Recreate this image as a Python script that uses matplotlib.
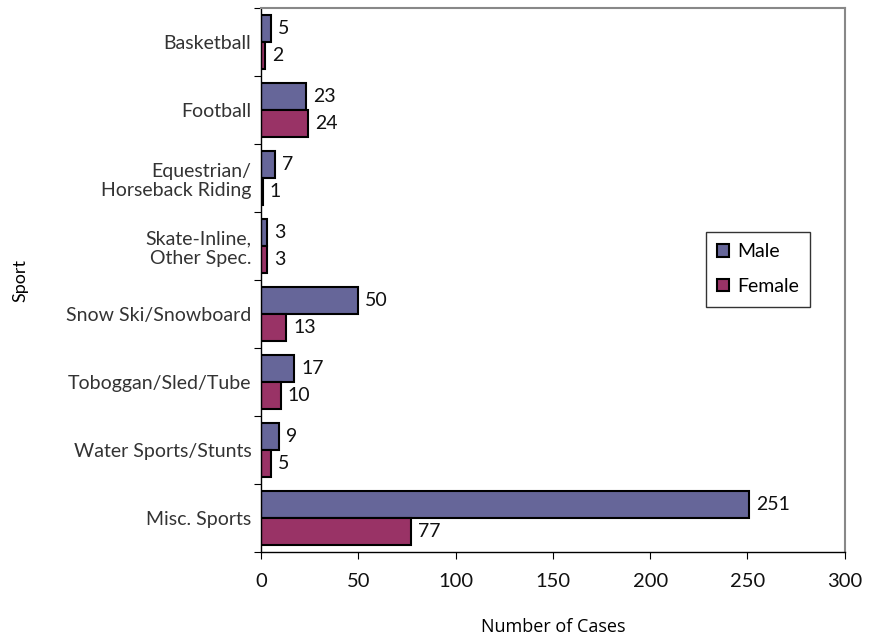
import matplotlib
matplotlib.use("Agg")
import matplotlib.pyplot as plt
import numpy as np

plt.rcParams['font.family'] = ['Lato', 'DejaVu Sans']

sports = ["Basketball", "Football", "Equestrian/\nHorseback Riding",
          "Skate-Inline,\nOther Spec.", "Snow Ski/Snowboard",
          "Toboggan/Sled/Tube", "Water Sports/Stunts", "Misc. Sports"]
male = [5, 23, 7, 3, 50, 17, 9, 251]
female = [2, 24, 1, 3, 13, 10, 5, 77]

male_color = "#666699"
female_color = "#993366"

fig = plt.figure(figsize=(8.79, 6.36), dpi=100)
ax = fig.add_axes([0.297, 0.132, 0.664, 0.855])

y = np.arange(len(sports))
h = 0.4
bm = ax.barh(y - h / 2, male, height=h, color=male_color, edgecolor="black",
             linewidth=1.5, label="Male")
bf = ax.barh(y + h / 2, female, height=h, color=female_color, edgecolor="black",
             linewidth=1.5, label="Female")

for bars, vals in ((bm, male), (bf, female)):
    for b, v in zip(bars, vals):
        ax.annotate(str(v), (b.get_width(), b.get_y() + b.get_height() / 2),
                    xytext=(5, 0), textcoords="offset points",
                    ha="left", va="center", fontsize=14, color="#111111")

ax.set_ylim(len(sports) - 0.5, -0.5)
ax.set_xlim(0, 300)
ax.set_xticks(range(0, 301, 50))
ax.set_yticks(np.arange(-0.5, len(sports), 1.0))
ax.set_yticklabels([])
ax.set_yticks(y, minor=True)
ax.set_yticklabels(sports, minor=True, fontsize=14, color="#333333")
ax.tick_params(axis="y", which="minor", length=0, pad=7)
ax.tick_params(axis="y", which="major", length=5, direction="out")
ax.tick_params(axis="x", length=5, direction="out", labelsize=14.5, pad=10,
               labelcolor="#111111")

for s in ("top", "right"):
    ax.spines[s].set_color("#888888")
    ax.spines[s].set_linewidth(1.5)
for s in ("left", "bottom"):
    ax.spines[s].set_color("black")
    ax.spines[s].set_linewidth(1.0)

ax.set_xlabel("Number of Cases", fontsize=13, labelpad=20,
              family=["Open Sans", "DejaVu Sans"])
ax.set_ylabel("Sport", fontsize=13, labelpad=27)

leg = ax.legend(loc="upper left", bbox_to_anchor=(0.762, 0.589), fontsize=14,
                frameon=True, fancybox=False, edgecolor="black",
                handlelength=0.6, handleheight=0.6, labelspacing=0.9,
                borderpad=0.6, handletextpad=0.4, borderaxespad=0)
leg.get_frame().set_linewidth(1.0)

fig.savefig("out.png", dpi=100, facecolor="white")
